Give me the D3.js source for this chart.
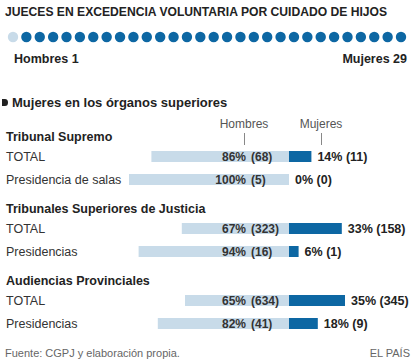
<!DOCTYPE html>
<html>
<head>
<meta charset="utf-8">
<script src="https://cdn.jsdelivr.net/npm/d3@7"></script>
<style>
  body { margin: 0; background: #fff; }
  text { font-family: "Liberation Sans", Arial, sans-serif; }
</style>
</head>
<body>
<div id="chart"></div>
<script>
// datos
const totalJueces = 30;
const hombresExc = 1;
const mujeresExc = 29;

const grupos = ["Tribunal Supremo", "Tribunales Superiores de Justicia", "Audiencias Provinciales"];
const filas = ["TOTAL", "Presidencia de salas", "TOTAL", "Presidencias", "TOTAL", "Presidencias"];
const filaGrupo = [0, 0, 1, 1, 2, 2];
const hombresPct = [86, 100, 67, 94, 65, 82];
const hombresN = [68, 5, 323, 16, 634, 41];
const mujeresPct = [14, 0, 33, 6, 35, 18];
const mujeresN = [11, 0, 158, 1, 345, 9];

const W = 414, H = 363;
const claro = "#c8dbe9", oscuro = "#0d67a3", texto = "#222";

const svg = d3.select("#chart").append("svg")
  .attr("width", W)
  .attr("height", H);

// titulo
svg.append("text")
  .attr("x", 5).attr("y", 16)
  .attr("font-family", "DejaVu Sans Condensed")
  .attr("font-weight", "bold")
  .attr("font-size", "13px")
  .attr("textLength", 382)
  .attr("lengthAdjust", "spacingAndGlyphs")
  .attr("fill", "#222")
  .text("JUECES EN EXCEDENCIA VOLUNTARIA POR CUIDADO DE HIJOS");

// fila de puntos
const dotX = d3.scaleLinear().domain([0, totalJueces - 1]).range([13, 401]);
svg.selectAll("circle.juez")
  .data(d3.range(totalJueces))
  .enter()
  .append("circle")
  .attr("class", "juez")
  .attr("cx", d => dotX(d))
  .attr("cy", 37)
  .attr("r", 5.2)
  .attr("fill", d => d < hombresExc ? claro : oscuro);

svg.append("text")
  .attr("x", 14).attr("y", 63)
  .attr("font-weight", "bold").attr("font-size", "12.5px")
  .attr("fill", texto)
  .text("Hombres " + hombresExc);
svg.append("text")
  .attr("x", 407).attr("y", 63)
  .attr("text-anchor", "end")
  .attr("font-weight", "bold").attr("font-size", "12.5px")
  .attr("fill", texto)
  .text("Mujeres " + mujeresExc);

// subtitulo
svg.append("path")
  .attr("d", "M2,99 L5,99 Q8,99 8,102.5 Q8,106 5,106 L2,106 Z")
  .attr("fill", "#222");
svg.append("text")
  .attr("x", 12).attr("y", 107)
  .attr("font-weight", "bold").attr("font-size", "13px")
  .attr("fill", texto)
  .text("Mujeres en los órganos superiores");

// escalas
const centro = 289;
const x = d3.scaleLinear().domain([0, 100]).range([0, 160]);
const yGrupo = d3.scaleLinear().domain([0, 1]).range([141, 213]);
const rowTop = i => {
  const g = filaGrupo[i];
  const j = filaGrupo.slice(0, i).filter(v => v === g).length;
  return yGrupo(g) + 10 + 23 * j;
};
const barH = 11;

// leyenda
const leyenda = [
  { t: "Hombres", cx: 244 },
  { t: "Mujeres", cx: 321 }
];
svg.selectAll("text.ley")
  .data(leyenda)
  .enter()
  .append("text")
  .attr("class", "ley")
  .attr("x", d => d.cx).attr("y", 128)
  .attr("text-anchor", "middle")
  .attr("font-size", "12px")
  .attr("fill", "#555")
  .text(d => d.t);
svg.selectAll("line.ley")
  .data(leyenda)
  .enter()
  .append("line")
  .attr("class", "ley")
  .attr("x1", d => d.cx + 0.5).attr("x2", d => d.cx + 0.5)
  .attr("y1", 133).attr("y2", 145)
  .attr("stroke", "#888").attr("stroke-width", 1);

// cabeceras de grupo
svg.selectAll("text.grupo")
  .data(grupos)
  .enter()
  .append("text")
  .attr("class", "grupo")
  .attr("x", 6)
  .attr("y", (d, i) => yGrupo(i))
  .attr("font-weight", "bold").attr("font-size", "12.5px")
  .attr("fill", texto)
  .text(d => d);

// etiquetas de fila
svg.selectAll("text.fila")
  .data(filas)
  .enter()
  .append("text")
  .attr("class", "fila")
  .attr("x", 6)
  .attr("y", (d, i) => rowTop(i) + 9.5)
  .attr("font-size", "12.5px")
  .attr("fill", "#333")
  .text(d => d);

// barras hombres
svg.selectAll("rect.h")
  .data(hombresPct)
  .enter()
  .append("rect")
  .attr("class", "h")
  .attr("x", d => centro - x(d))
  .attr("y", (d, i) => rowTop(i))
  .attr("width", d => x(d))
  .attr("height", barH)
  .attr("fill", claro);

// barras mujeres
svg.selectAll("rect.m")
  .data(mujeresPct)
  .enter()
  .append("rect")
  .attr("class", "m")
  .attr("x", centro)
  .attr("y", (d, i) => rowTop(i))
  .attr("width", d => x(d))
  .attr("height", barH)
  .attr("fill", oscuro);

// valores hombres
svg.selectAll("text.hp")
  .data(hombresPct)
  .enter()
  .append("text")
  .attr("class", "hp")
  .attr("x", 246)
  .attr("y", (d, i) => rowTop(i) + 9.5)
  .attr("text-anchor", "end")
  .attr("font-weight", "bold").attr("font-size", "12px")
  .attr("fill", "#333")
  .text(d => d + "%");
svg.selectAll("text.hn")
  .data(hombresN)
  .enter()
  .append("text")
  .attr("class", "hn")
  .attr("x", 251)
  .attr("y", (d, i) => rowTop(i) + 9.5)
  .attr("font-weight", "bold").attr("font-size", "12px")
  .attr("fill", "#333")
  .text(d => "(" + d + ")");

// valores mujeres
svg.selectAll("text.mv")
  .data(mujeresPct)
  .enter()
  .append("text")
  .attr("class", "mv")
  .attr("x", d => centro + x(d) + 6)
  .attr("y", (d, i) => rowTop(i) + 10)
  .attr("font-weight", "bold").attr("font-size", "12.5px")
  .attr("fill", texto)
  .text((d, i) => d + "% (" + mujeresN[i] + ")");

// pie
svg.append("text")
  .attr("x", 5).attr("y", 357)
  .attr("font-size", "11px")
  .attr("fill", "#666")
  .text("Fuente: CGPJ y elaboración propia.");
svg.append("text")
  .attr("x", 410).attr("y", 357)
  .attr("text-anchor", "end")
  .attr("font-size", "11px")
  .attr("fill", "#666")
  .text("EL PAÍS");
</script>
</body>
</html>
